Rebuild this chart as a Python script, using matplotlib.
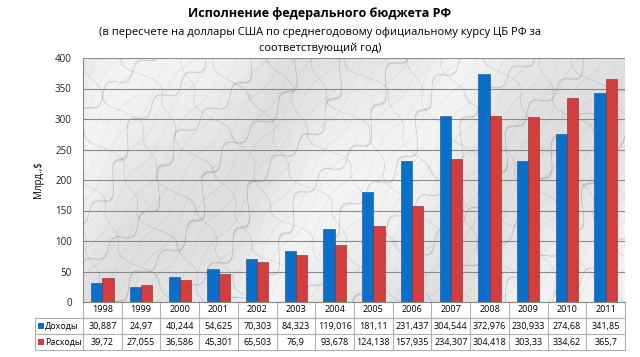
import numpy as np
import matplotlib
matplotlib.use("Agg")
import matplotlib.pyplot as plt
from matplotlib.transforms import blended_transform_factory
from matplotlib.patches import Rectangle

plt.rcParams['font.family'] = ['Open Sans', 'DejaVu Sans']

years = ['1998', '1999', '2000', '2001', '2002', '2003', '2004', '2005',
         '2006', '2007', '2008', '2009', '2010', '2011']
income = [30.887, 24.97, 40.244, 54.625, 70.303, 84.323, 119.016, 181.11,
          231.437, 304.544, 372.976, 230.933, 274.68, 341.85]
expense = [39.72, 27.055, 36.586, 45.301, 65.503, 76.9, 93.678, 124.138,
           157.935, 234.307, 304.418, 303.33, 334.62, 365.7]
income_labels = ['30,887', '24,97', '40,244', '54,625', '70,303', '84,323', '119,016',
                 '181,11', '231,437', '304,544', '372,976', '230,933', '274,68', '341,85']
expense_labels = ['39,72', '27,055', '36,586', '45,301', '65,503', '76,9', '93,678',
                  '124,138', '157,935', '234,307', '304,418', '303,33', '334,62', '365,7']
series_names = ['Доходы', 'Расходы']
colors = ['#0a6fc8', '#d23d3d']

W, H = 640, 357
fig = plt.figure(figsize=(W / 100, H / 100), dpi=100)
fig.patch.set_facecolor('white')

x0, x1, ytop, ybot = 83, 625, 58, 302
ax = fig.add_axes([x0 / W, (H - ybot) / H, (x1 - x0) / W, (ybot - ytop) / H])
ax.set_facecolor('#e6e6e6')

n = len(years)
x = np.arange(n)

# marble-like background texture (deterministic, decorative only)
gx, gy = np.meshgrid(np.linspace(0, 1, 542), np.linspace(0, 1, 244))
gx = gx * 542 / 244
s1 = np.sin(14 * gx + 10 * gy + 0.7 * np.sin(9 * gy - 4 * gx) + 0.4 * np.sin(37 * gx - 21 * gy))
s2 = np.sin(17 * gx - 12 * gy + 0.6 * np.sin(13 * gx + 7 * gy) + 0.3 * np.sin(41 * gy))
s3 = np.sin(43 * gx + 27 * gy + 0.9 * np.sin(23 * gx - 5 * gy))
s4 = np.sin(5 * gx + 4 * gy + 0.5 * np.sin(8 * gx))
tex = 0.91 - 0.13 * np.exp(-(s1 / 0.06) ** 2) - 0.09 * np.exp(-(s2 / 0.05) ** 2) \
      - 0.06 * np.exp(-(s3 / 0.08) ** 2) + 0.04 * s4
tex = np.clip(tex, 0.65, 0.99)
ax.imshow(tex, cmap='gray', vmin=0, vmax=1, extent=(-0.5, n - 0.5, 0, 400),
          aspect='auto', zorder=0, interpolation='bilinear')

bw = 0.29
ax.bar(x - bw / 2, income, bw, color=colors[0], edgecolor='#0a4f90', linewidth=0.4, zorder=3)
ax.bar(x + bw / 2, expense, bw, color=colors[1], edgecolor='#8e2222', linewidth=0.4, zorder=3)

ax.set_xlim(-0.5, n - 0.5)
ax.set_ylim(0, 400)
ax.set_yticks(np.arange(0, 401, 50))
ax.tick_params(axis='y', labelsize=7, length=0, pad=8, colors='#222222')
ax.set_xticks([])
ax.grid(axis='y', color='#8a8a8a', linewidth=0.8, zorder=1)
for s in ['top', 'right']:
    ax.spines[s].set_visible(False)
ax.spines['left'].set_color('#888888')
ax.spines['bottom'].set_color('#888888')
ax.set_ylabel('Млрд.,$', fontsize=7)
ax.yaxis.set_label_coords(-0.072, 0.5)

# table below
tr = blended_transform_factory(ax.transData, ax.transAxes)
ah = ybot - ytop
rh = 16 / ah
line_kw = dict(color='#b0b0b0', linewidth=0.8, clip_on=False, transform=tr)
lab_left = -0.5 - (x0 - 35) / ((x1 - x0) / n)
ax.plot([-0.5, n - 0.5], [-rh, -rh], **line_kw)
ax.plot([lab_left, n - 0.5], [-rh, -rh], **line_kw)
ax.plot([lab_left, n - 0.5], [-2 * rh, -2 * rh], **line_kw)
ax.plot([lab_left, n - 0.5], [-3 * rh, -3 * rh], **line_kw)
for i in range(n + 1):
    ax.plot([i - 0.5, i - 0.5], [0, -3 * rh], **line_kw)
ax.plot([lab_left, lab_left], [-rh, -3 * rh], **line_kw)

for i in range(n):
    ax.text(i, -0.5 * rh, years[i], transform=tr, ha='center', va='center', fontsize=6.5)
    ax.text(i, -1.5 * rh, income_labels[i], transform=tr, ha='center', va='center', fontsize=6.5)
    ax.text(i, -2.5 * rh, expense_labels[i], transform=tr, ha='center', va='center', fontsize=6.5)

for k, (name, c) in enumerate(zip(series_names, colors)):
    yy = (ybot + 16 * (k + 1) + 8)
    fig.patches.append(Rectangle((38 / W, (H - yy - 3) / H), 6 / W, 6 / H,
                                 transform=fig.transFigure, facecolor=c, edgecolor='none'))
    fig.text(45 / W, (H - yy) / H, name, ha='left', va='center', fontsize=6.5)

fig.text(0.5, (H - 14) / H, 'Исполнение федерального бюджета РФ', ha='center', va='center',
         fontsize=9, fontweight='bold')
fig.text(0.5, (H - 33) / H, '(в пересчете на доллары США по среднегодовому официальному курсу ЦБ РФ за',
         ha='center', va='center', fontsize=8)
fig.text(0.5, (H - 48) / H, 'соответствующий год)', ha='center', va='center', fontsize=8)

fig.savefig('out.png', dpi=100)
